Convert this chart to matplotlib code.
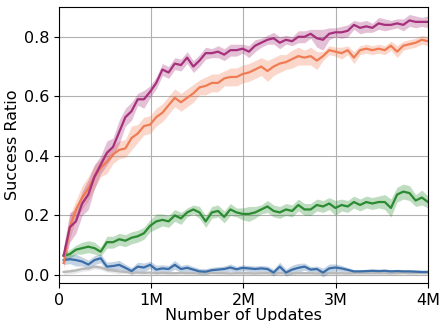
import matplotlib
matplotlib.use('Agg')
import matplotlib.pyplot as plt
import numpy as np

# training steps (in millions of updates)
steps = np.linspace(0.05, 4.0, 60)

# mean success ratio per run type
magenta = [0.065, 0.16, 0.18, 0.24, 0.27, 0.33, 0.37, 0.41, 0.43, 0.48,
           0.53, 0.55, 0.59, 0.59, 0.615, 0.645, 0.69, 0.68, 0.71, 0.705,
           0.73, 0.70, 0.72, 0.745, 0.745, 0.75, 0.74, 0.755, 0.755, 0.76,
           0.75, 0.77, 0.78, 0.79, 0.795, 0.78, 0.79, 0.785, 0.80, 0.80,
           0.81, 0.795, 0.79, 0.81, 0.815, 0.815, 0.82, 0.84, 0.83, 0.835,
           0.83, 0.845, 0.84, 0.84, 0.845, 0.84, 0.855, 0.85, 0.85, 0.85]
orange = [0.04, 0.16, 0.22, 0.26, 0.29, 0.33, 0.36, 0.38, 0.405, 0.42,
          0.425, 0.46, 0.475, 0.50, 0.505, 0.53, 0.545, 0.57, 0.595, 0.58,
          0.595, 0.61, 0.63, 0.635, 0.645, 0.645, 0.66, 0.665, 0.665, 0.675,
          0.68, 0.69, 0.70, 0.685, 0.70, 0.71, 0.715, 0.725, 0.735, 0.73,
          0.735, 0.72, 0.735, 0.755, 0.75, 0.745, 0.755, 0.73, 0.755, 0.76,
          0.755, 0.76, 0.755, 0.77, 0.75, 0.77, 0.775, 0.78, 0.79, 0.785]
green = [0.065, 0.07, 0.085, 0.09, 0.095, 0.09, 0.078, 0.11, 0.11, 0.12,
         0.115, 0.125, 0.13, 0.14, 0.165, 0.18, 0.185, 0.18, 0.20, 0.19,
         0.21, 0.22, 0.21, 0.18, 0.21, 0.215, 0.195, 0.22, 0.21, 0.205,
         0.205, 0.21, 0.22, 0.23, 0.215, 0.21, 0.22, 0.215, 0.235, 0.22,
         0.22, 0.235, 0.23, 0.24, 0.225, 0.235, 0.23, 0.245, 0.235, 0.245,
         0.24, 0.245, 0.245, 0.225, 0.27, 0.28, 0.275, 0.25, 0.26, 0.245]
blue = [0.05, 0.053, 0.05, 0.045, 0.035, 0.05, 0.056, 0.028, 0.03, 0.034,
        0.024, 0.013, 0.028, 0.025, 0.034, 0.018, 0.022, 0.02, 0.034, 0.02,
        0.024, 0.018, 0.012, 0.011, 0.016, 0.018, 0.02, 0.025, 0.019, 0.024,
        0.022, 0.02, 0.022, 0.02, 0.008, 0.028, 0.008, 0.018, 0.024, 0.028,
        0.018, 0.02, 0.008, 0.022, 0.025, 0.022, 0.017, 0.012, 0.012, 0.013,
        0.014, 0.013, 0.014, 0.012, 0.013, 0.012, 0.012, 0.011, 0.01, 0.01]
gray = [0.01, 0.012, 0.015, 0.02, 0.022, 0.028, 0.025, 0.018, 0.015, 0.012,
        0.01, 0.008, 0.008, 0.007, 0.008, 0.006, 0.007, 0.006, 0.006, 0.007,
        0.006, 0.006, 0.005, 0.006, 0.007, 0.006, 0.006, 0.005, 0.006, 0.006,
        0.006, 0.005, 0.006, 0.006, 0.005, 0.006, 0.006, 0.005, 0.006, 0.006,
        0.006, 0.005, 0.006, 0.006, 0.006, 0.006, 0.005, 0.006, 0.006, 0.006,
        0.006, 0.006, 0.006, 0.005, 0.006, 0.007, 0.006, 0.006, 0.008, 0.008]

# half width of the shaded bands
magenta_err = [0.03, 0.05, 0.04, 0.04, 0.05, 0.04, 0.03, 0.04, 0.03, 0.04,
               0.03, 0.03, 0.02, 0.03, 0.02, 0.02, 0.02, 0.02, 0.02, 0.02,
               0.02, 0.02, 0.02, 0.02, 0.015, 0.02, 0.02, 0.02, 0.02, 0.015,
               0.02, 0.02, 0.015, 0.015, 0.02, 0.02, 0.015, 0.015, 0.02, 0.02,
               0.015, 0.03, 0.035, 0.02, 0.015, 0.02, 0.02, 0.015, 0.02, 0.02,
               0.015, 0.02, 0.02, 0.015, 0.015, 0.02, 0.02, 0.02, 0.015, 0.02]
orange_err = [0.02, 0.04, 0.03, 0.04, 0.04, 0.04, 0.03, 0.04, 0.03, 0.03,
              0.03, 0.04, 0.03, 0.03, 0.03, 0.03, 0.03, 0.03, 0.03, 0.03,
              0.03, 0.03, 0.025, 0.03, 0.03, 0.03, 0.025, 0.03, 0.03, 0.03,
              0.03, 0.03, 0.03, 0.035, 0.03, 0.03, 0.025, 0.03, 0.03, 0.025,
              0.03, 0.03, 0.015, 0.015, 0.015, 0.02, 0.015, 0.02, 0.015, 0.015,
              0.015, 0.015, 0.015, 0.015, 0.02, 0.015, 0.015, 0.015, 0.015, 0.015]
green_err = [0.01, 0.015, 0.015, 0.02, 0.02, 0.02, 0.015, 0.02, 0.02, 0.02,
             0.02, 0.02, 0.02, 0.02, 0.02, 0.025, 0.02, 0.02, 0.02, 0.02,
             0.015, 0.015, 0.02, 0.02, 0.02, 0.02, 0.02, 0.02, 0.015, 0.02,
             0.025, 0.02, 0.015, 0.02, 0.02, 0.02, 0.02, 0.02, 0.02, 0.02,
             0.02, 0.02, 0.02, 0.02, 0.025, 0.02, 0.02, 0.02, 0.02, 0.02,
             0.02, 0.02, 0.025, 0.03, 0.025, 0.025, 0.025, 0.02, 0.025, 0.02]
blue_err = [0.015, 0.015, 0.02, 0.015, 0.015, 0.015, 0.015, 0.015, 0.015, 0.015,
            0.012, 0.012, 0.015, 0.015, 0.012, 0.015, 0.012, 0.012, 0.015, 0.012,
            0.012, 0.01, 0.01, 0.01, 0.01, 0.01, 0.01, 0.012, 0.01, 0.01,
            0.01, 0.01, 0.01, 0.01, 0.012, 0.015, 0.012, 0.015, 0.015, 0.012,
            0.01, 0.01, 0.015, 0.015, 0.012, 0.01, 0.008, 0.006, 0.006, 0.006,
            0.006, 0.006, 0.006, 0.006, 0.006, 0.006, 0.006, 0.006, 0.006, 0.006]
gray_err = [0.008] * 10 + [0.005] * 50

fig = plt.figure(figsize=(4.41, 3.21), dpi=100)
ax = fig.add_axes([59 / 441, 1 - 283 / 321, 369 / 441, 276 / 321])

x = steps * 1e6
series = [(gray, gray_err, '#b9b9b9'),
          (blue, blue_err, '#3b6ea8'),
          (green, green_err, '#2a8b30'),
          (orange, orange_err, '#ef7c52'),
          (magenta, magenta_err, '#a6307c')]
for mean, err, col in series:
    mean = np.array(mean)
    err = np.array(err)
    ax.fill_between(x, mean - err, mean + err, color=col, alpha=0.3, lw=0)
    ax.plot(x, mean, color=col, lw=1.6)

ax.set_xlim(0, 4e6)
ax.set_ylim(-0.027, 0.9)
ax.set_xticks([0, 1e6, 2e6, 3e6, 4e6])
ax.set_xticklabels(['0', '1M', '2M', '3M', '4M'])
ax.set_yticks([0.0, 0.2, 0.4, 0.6, 0.8])
ax.grid(True, color='#b0b0b0', lw=0.8)
ax.set_axisbelow(True)
ax.tick_params(labelsize=11.5, length=3.5, pad=3.5)
ax.set_xlabel('Number of Updates', fontsize=11.5, labelpad=0.3)
ax.set_ylabel('Success Ratio', fontsize=11.5, labelpad=3)

fig.savefig('out.png', dpi=100)
